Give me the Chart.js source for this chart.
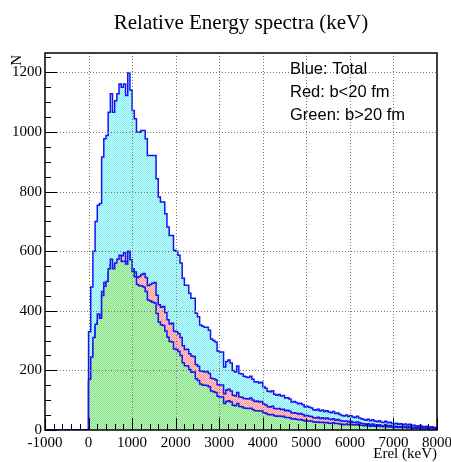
<!DOCTYPE html>
<html><head><meta charset="utf-8">
<script src="https://cdn.jsdelivr.net/npm/chart.js@4"></script>
<style>html,body{margin:0;padding:0;background:#fff;}canvas{display:block}</style>
</head><body>
<canvas id="c" width="451" height="462"></canvas>
<script>
const chartTitle = "Relative Energy spectra (keV)";
const xTitle = "Erel (keV)";
const yTitle = "N";
const legendLines = ["Blue: Total", "Red: b<20 fm", "Green: b>20 fm"];

// histogram binning (keV)
const binStart = 0;
const binWidth = 50;

const total = [
 330,480,600,700,754,760,916,977,988,1066,
 1128,1066,1105,1128,1161,1150,1161,1122,1198,1141,
 1072,1044,1000,999,1005,1005,977,921,921,921,
 921,843,782,765,765,726,681,653,653,603,
 600,586,560,509,486,486,459,442,442,392,
 380,352,348,345,345,335,305,300,295,265,
 262,262,211,230,235,225,200,195,215,190,
 188,180,178,176,180,170,161,162,158,160,
 145,140,130,128,132,120,117,119,114,116,
 107,108,104,94,96,92,88,90,85,77,
 80,76,74,68,66,70,64,67,62,65,
 60,58,62,55,57,52,49,47,50,45,
 48,44,42,46,40,38,35,33,36,31,
 34,30,28,31,27,25,29,24,26,22,
 20,23,19,21,18,20,17,19,15,16,
 14,13,15,12,11,13,10,11,9,8
];
const red = [
 160,235,290,345,365,385,465,495,490,525,
 555,525,545,555,575,585,595,565,600,570,
 540,530,512,515,522,525,512,485,488,492,
 495,452,420,412,414,394,370,356,358,331,
 330,323,310,283,270,271,256,248,247,220,
 214,198,197,195,196,190,174,172,169,152,
 151,151,122,134,137,131,117,114,126,111,
 110,106,105,104,107,101,96,97,94,96,
 87,84,78,77,80,72,71,72,69,70,
 65,66,63,57,58,56,54,55,52,47,
 49,46,45,41,40,43,39,41,38,40,
 37,35,38,33,35,32,30,29,30,27,
 29,26,25,27,24,22,21,19,21,18,
 20,17,16,18,15,14,17,14,15,13,
 12,13,11,12,10,12,10,11,9,9,
 8,8,9,7,6,8,6,6,5,5
];
const green = [
 170,245,310,355,389,375,451,482,498,541,
 573,541,560,573,586,565,566,557,598,571,
 532,514,488,484,483,480,465,436,433,429,
 426,391,362,353,351,332,311,297,295,272,
 270,263,250,226,216,215,203,194,195,172,
 166,154,151,150,149,145,131,128,126,113,
 111,111,89,96,98,94,83,81,89,79,
 78,74,73,72,73,69,65,65,64,64,
 58,56,52,51,52,48,46,47,45,46,
 42,42,41,37,38,36,34,35,33,30,
 31,30,29,27,26,27,25,26,24,25,
 23,23,24,22,22,20,19,18,20,18,
 19,18,17,19,16,16,14,14,15,13,
 14,13,12,13,12,11,12,10,11,9,
 8,10,8,9,8,8,7,8,6,7,
 6,5,6,5,5,5,4,5,4,3
];

const xTicks = [-1000,0,1000,2000,3000,4000,5000,6000,7000,8000];
const yTicks = [0,200,400,600,800,1000,1200];
const xRange = [-1000, 8000];
const yRange = [0, 1265];

function toSteps(vals){
  const pts = [{x: xRange[0], y: 0}];
  vals.forEach((v,i) => pts.push({x: binStart + i*binWidth, y: v}));
  pts.push({x: binStart + vals.length*binWidth, y: 0});
  return pts;
}
function pat(c1, c2){
  const cv = document.createElement('canvas'); cv.width = 2; cv.height = 2;
  const g = cv.getContext('2d');
  g.fillStyle = c2; g.fillRect(0,0,2,2);
  g.fillStyle = c1; g.fillRect(0,0,1,1); g.fillRect(1,1,1,1);
  return g.createPattern(cv, 'repeat');
}
const lineBlue = 'rgb(20,20,245)';

const decor = {
  id: 'decor',
  afterDatasetsDraw(chart){
    const ctx = chart.ctx, a = chart.chartArea;
    const xs = chart.scales.x, ys = chart.scales.y;
    ctx.save();
    // grid (dotted)
    ctx.strokeStyle = '#7a7a7a'; ctx.lineWidth = 1; ctx.setLineDash([1,2]);
    xTicks.slice(1,-1).forEach(v => {
      const px = Math.round(xs.getPixelForValue(v)) + 0.5;
      ctx.beginPath(); ctx.moveTo(px, a.top); ctx.lineTo(px, a.bottom); ctx.stroke();
    });
    yTicks.slice(1).forEach(v => {
      const py = Math.round(ys.getPixelForValue(v)) + 0.5;
      ctx.beginPath(); ctx.moveTo(a.left, py); ctx.lineTo(a.right, py); ctx.stroke();
    });
    ctx.setLineDash([]);
    // inner ticks
    ctx.strokeStyle = '#000'; ctx.lineWidth = 1;
    for (let i = 0; i < xTicks.length; i++){
      const v = xTicks[i];
      const px = Math.round(xs.getPixelForValue(v)) + 0.5;
      ctx.beginPath(); ctx.moveTo(px, a.bottom); ctx.lineTo(px, a.bottom - 12); ctx.stroke();
      if (i < xTicks.length - 1){
        const step = (xTicks[i+1] - v) / 5;
        for (let j = 1; j < 5; j++){
          const qx = Math.round(xs.getPixelForValue(v + j*step)) + 0.5;
          ctx.beginPath(); ctx.moveTo(qx, a.bottom); ctx.lineTo(qx, a.bottom - 6); ctx.stroke();
        }
      }
    }
    for (let i = 0; i < yTicks.length; i++){
      const v = yTicks[i];
      const py = Math.round(ys.getPixelForValue(v)) + 0.5;
      ctx.beginPath(); ctx.moveTo(a.left, py); ctx.lineTo(a.left + 12, py); ctx.stroke();
      const step = 50;
      for (let j = 1; j < 4; j++){
        const mv = v + j*step;
        if (mv > yRange[1]) break;
        const qy = Math.round(ys.getPixelForValue(mv)) + 0.5;
        ctx.beginPath(); ctx.moveTo(a.left, qy); ctx.lineTo(a.left + 6, qy); ctx.stroke();
      }
    }
    // frame
    ctx.lineWidth = 1.5;
    ctx.strokeRect(a.left, a.top, a.right - a.left, a.bottom - a.top);
    ctx.restore();
  },
  afterDraw(chart){
    const ctx = chart.ctx, a = chart.chartArea;
    ctx.save();
    ctx.fillStyle = '#000';
    ctx.font = '21px "Liberation Serif"';
    ctx.textAlign = 'center'; ctx.textBaseline = 'middle';
    ctx.fillText(chartTitle, (a.left + a.right) / 2, 23);
    ctx.font = '15px "Liberation Serif"';
    ctx.textAlign = 'right';
    ctx.fillText(xTitle, a.right, 454);
    ctx.save();
    ctx.translate(17, a.top + 2);
    ctx.rotate(-Math.PI/2);
    ctx.textAlign = 'right'; ctx.textBaseline = 'middle';
    ctx.fillText(yTitle, 0, 0);
    ctx.restore();
    ctx.font = '16.5px "Liberation Sans"';
    ctx.textAlign = 'left'; ctx.textBaseline = 'middle';
    legendLines.forEach((t, i) => ctx.fillText(t, 290, 69 + i*23));
    ctx.restore();
  }
};

new Chart(document.getElementById('c'), {
  type: 'line',
  data: {
    datasets: [
      { label: 'Green: b>20 fm', data: toSteps(green), stepped: 'before',
        borderColor: lineBlue, borderWidth: 1.5, fill: 'origin',
        backgroundColor: pat('rgb(125,225,125)', 'rgb(200,245,200)') },
      { label: 'Red: b<20 fm', data: toSteps(red), stepped: 'before',
        borderColor: lineBlue, borderWidth: 1.5, fill: 'origin',
        backgroundColor: pat('rgb(250,140,140)', 'rgb(255,215,215)') },
      { label: 'Blue: Total', data: toSteps(total), stepped: 'before',
        borderColor: lineBlue, borderWidth: 1.5, fill: 'origin',
        backgroundColor: pat('rgb(120,238,242)', 'rgb(210,252,252)') }
    ]
  },
  options: {
    responsive: false, animation: false, devicePixelRatio: 1,
    parsing: false, normalized: true,
    layout: { padding: { top: 53, right: 14, left: 0, bottom: 0 } },
    elements: { point: { radius: 0, hoverRadius: 0 }, line: { tension: 0, borderJoinStyle: 'miter' } },
    plugins: { legend: { display: false }, tooltip: { enabled: false }, title: { display: false } },
    scales: {
      x: {
        type: 'linear', min: xRange[0], max: xRange[1],
        grid: { display: false, drawTicks: false },
        border: { display: false },
        ticks: {
          stepSize: 1000, includeBounds: false, autoSkip: false, maxRotation: 0,
          padding: 4, color: '#000',
          font: { family: '"Liberation Serif"', size: 15 },
          callback: v => String(v)
        },
        afterBuildTicks: s => { s.ticks = xTicks.map(v => ({ value: v })); },
        afterFit: s => { s.height = 32; s.paddingLeft = 0; s.paddingRight = 0; }
      },
      y: {
        type: 'linear', min: yRange[0], max: yRange[1],
        grid: { display: false, drawTicks: false },
        border: { display: false },
        ticks: {
          stepSize: 200, includeBounds: false, autoSkip: false,
          padding: 3, color: '#000',
          font: { family: '"Liberation Serif"', size: 15 },
          callback: v => String(v)
        },
        afterBuildTicks: s => { s.ticks = yTicks.map(v => ({ value: v })); },
        afterFit: s => { s.width = 45; s.paddingTop = 0; s.paddingBottom = 0; }
      }
    }
  },
  plugins: [decor]
});
</script>
</body></html>
